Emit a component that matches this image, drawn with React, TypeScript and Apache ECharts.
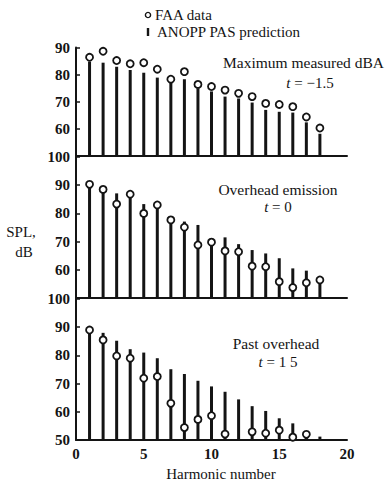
import React, { useEffect, useRef } from "react";
import * as echarts from "echarts";

const harmonics = [1, 2, 3, 4, 5, 6, 7, 8, 9, 10, 11, 12, 13, 14, 15, 16, 17, 18];

// Panel 1: Maximum measured dBA, t = -1.5
const faa1 = [86.4, 88.6, 85.2, 84.0, 84.4, 82.0, 78.3, 81.1, 76.4, 75.6, 74.3, 73.1, 71.9, 69.4, 69.0, 68.2, 64.4, 60.3];
const pred1 = [84.8, 84.4, 82.9, 81.7, 80.7, 78.9, 77.0, 78.3, 75.0, 73.8, 71.9, 71.2, 69.7, 67.0, 66.3, 66.0, 62.4, 58.2];

// Panel 2: Overhead emission, t = 0
const faa2 = [90.3, 88.5, 83.3, 86.8, 80.0, 83.0, 77.7, 75.1, 68.8, 69.8, 66.7, 66.4, 61.3, 61.1, 55.8, 53.7, 55.4, 56.4];
const pred2 = [89.0, 87.5, 87.1, 86.0, 83.3, 82.5, 77.0, 77.1, 75.9, 71.2, 71.5, 69.1, 67.0, 65.8, 64.1, 60.5, 59.7, 57.3];

// Panel 3: Past overhead, t = 1.5
const faa3 = [89.0, 85.5, 79.8, 79.0, 71.9, 72.5, 63.0, 54.4, 57.3, 58.6, 52.1, null, 52.9, 52.4, 53.5, 51.0, 52.0, null];
const pred3 = [88.0, 88.0, 85.2, 82.2, 81.0, 79.0, 75.1, 73.4, 71.0, 69.0, 67.1, 64.4, 62.0, 60.3, 57.7, 55.9, 51.5, 51.2];

const xTicks = [0, 5, 10, 15, 20];
const panelTitles = ["Maximum measured dBA", "Overhead emission", "Past overhead"];
const panelTimes = ["\u22121.5", "0", "1 5"];

const SERIF = "'Liberation Serif', 'DejaVu Serif', serif";
const INK = "#141414";

function pairs(vals: (number | null)[]) {
  return harmonics
    .map((h, i) => [h, vals[i]])
    .filter((d) => d[1] !== null && d[1] !== undefined);
}

export default function App() {
  const ref = useRef<HTMLDivElement>(null);

  useEffect(() => {
    if (!ref.current) return;
    const chart = echarts.init(ref.current, null, { renderer: "svg" });

    const grids = [
      { left: 76, width: 271, top: 47.5, height: 108.5 },
      { left: 76, width: 271, top: 157, height: 141 },
      { left: 76, width: 271, top: 299, height: 141 },
    ];
    const yMax = [90, 100, 100];

    const xAxis = grids.map((_, i) => ({
      gridIndex: i,
      type: "value",
      min: 0,
      max: 20,
      interval: 5,
      axisLine: { show: true, onZero: false, lineStyle: { color: INK, width: 2 } },
      axisTick: { show: false },
      splitLine: { show: false },
      axisLabel: {
        show: i === 2,
        color: INK,
        fontFamily: SERIF,
        fontSize: 15,
        fontWeight: "bold",
        margin: 6,
        formatter: (v: number) => (xTicks.includes(v) ? String(v) : ""),
      },
    }));

    const yAxis = grids.map((_, i) => ({
      gridIndex: i,
      type: "value",
      min: 50,
      max: yMax[i],
      interval: 10,
      axisLine: { show: true, lineStyle: { color: INK, width: 2 } },
      axisTick: { show: true, inside: true, length: 4, lineStyle: { color: INK, width: 1.5 } },
      splitLine: { show: false },
      axisLabel: {
        color: INK,
        fontFamily: SERIF,
        fontSize: 15,
        fontWeight: "bold",
        margin: 6,
        formatter: (v: number) => {
          if (v === 50 && i < 2) return "";
          return String(v);
        },
      },
    }));

    const preds = [pred1, pred2, pred3];
    const faas = [faa1, faa2, faa3];

    const series: any[] = [];
    preds.forEach((p, i) => {
      series.push({
        type: "custom",
        name: "ANOPP PAS prediction",
        xAxisIndex: i,
        yAxisIndex: i,
        z: 2,
        data: pairs(p),
        renderItem: (_params: any, api: any) => {
          const x = api.value(0);
          const y = api.value(1);
          const top = api.coord([x, y]);
          const bottom = api.coord([x, 50]);
          return {
            type: "rect",
            shape: { x: top[0] - 1.5, y: top[1], width: 3, height: bottom[1] - top[1] },
            style: { fill: INK },
          };
        },
      });
    });
    faas.forEach((f, i) => {
      series.push({
        type: "scatter",
        name: "FAA data",
        xAxisIndex: i,
        yAxisIndex: i,
        z: 5,
        symbol: "circle",
        symbolSize: 7,
        itemStyle: { color: "#ffffff", borderColor: INK, borderWidth: 1.8, opacity: 1 },
        data: pairs(f),
      });
    });

    const textEl = (txt: string, x: number, y: number, align = "center", size = 15) => ({
      type: "text",
      x,
      y,
      style: {
        text: txt,
        fill: INK,
        font: `${size}px ${SERIF}`,
        align,
        verticalAlign: "middle",
      },
    });

    const timeText = (val: string, x: number, y: number) => ({
      type: "text",
      x,
      y,
      style: {
        text: `{i|t} = ${val}`,
        fill: INK,
        font: `15px ${SERIF}`,
        align: "center",
        verticalAlign: "middle",
        rich: {
          i: { fontStyle: "italic", fontFamily: SERIF, fontSize: 15, fill: INK },
        },
      },
    });

    const graphic: any[] = [
      // legend
      { type: "circle", shape: { cx: 148, cy: 15, r: 2.6 }, style: { fill: "#fff", stroke: INK, lineWidth: 1.4 } },
      textEl("FAA data", 155, 15, "left"),
      { type: "rect", shape: { x: 146.8, y: 28, width: 2.4, height: 8 }, style: { fill: INK } },
      textEl("ANOPP PAS prediction", 157, 32, "left"),
      // panel annotations
      textEl(panelTitles[0], 223, 62, "left", 15.5),
      timeText(panelTimes[0], 310, 83),
      textEl(panelTitles[1], 278, 189, "center", 15.5),
      timeText(panelTimes[1], 278, 207),
      textEl(panelTitles[2], 276, 343, "center", 15.5),
      timeText(panelTimes[2], 278, 362),
      // y-axis title
      textEl("SPL,", 21, 232),
      textEl("dB", 24, 252),
      // x-axis title
      textEl("Harmonic number", 221, 474),
    ];

    chart.setOption({
      animation: false,
      backgroundColor: "#ffffff",
      grid: grids,
      xAxis,
      yAxis,
      series,
      graphic,
    });

    return () => chart.dispose();
  }, []);

  return (
    <div ref={ref} style={{ position: "absolute", left: 0, top: 0, width: 390, height: 483 }} />
  );
}
